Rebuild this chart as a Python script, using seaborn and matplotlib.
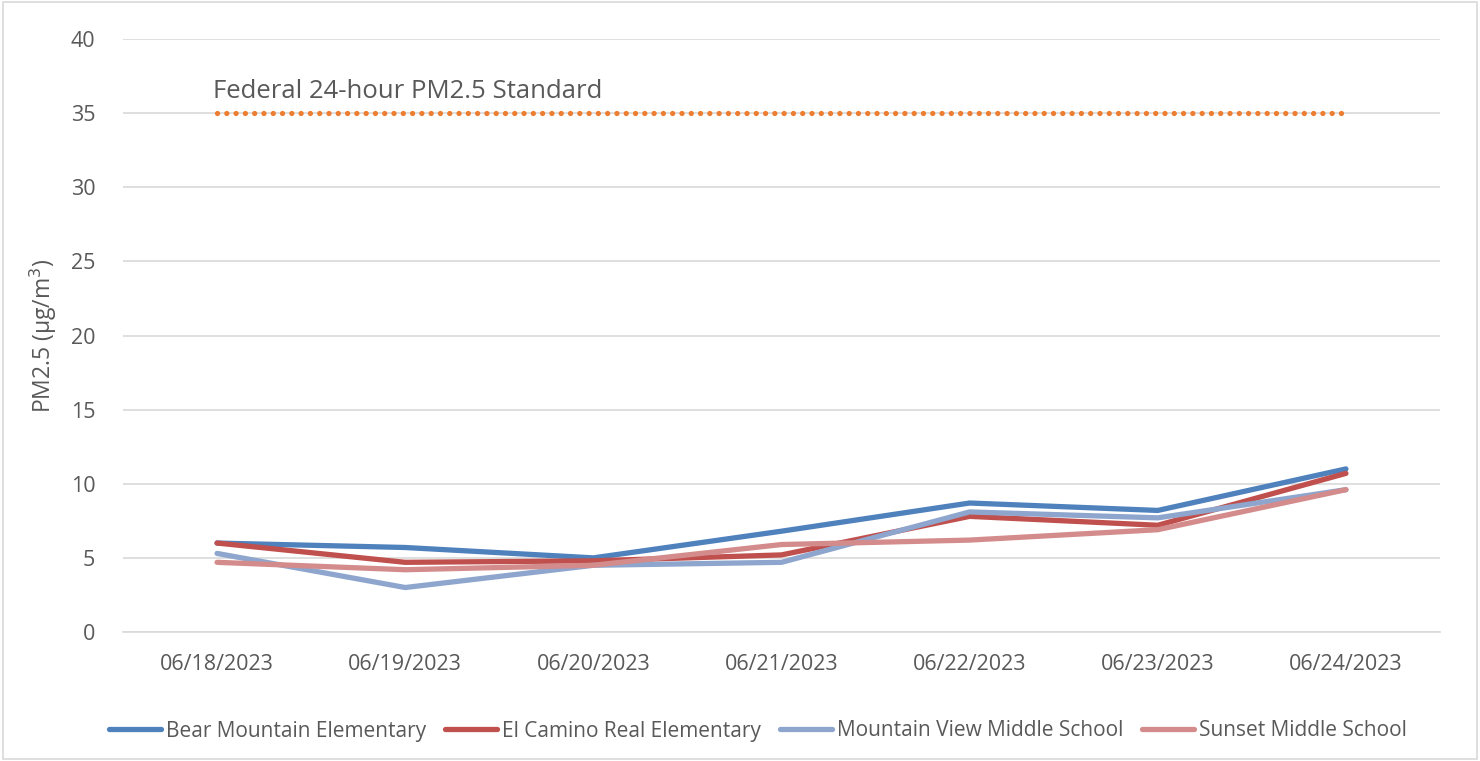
import numpy as np
import pandas as pd
import seaborn as sns
import matplotlib.pyplot as plt
from matplotlib.patches import Rectangle

# Dados
dates = ["06/18/2023", "06/19/2023", "06/20/2023", "06/21/2023",
         "06/22/2023", "06/23/2023", "06/24/2023"]
bear_mountain = [6.0, 5.7, 5.0, 6.8, 8.7, 8.2, 11.0]
el_camino = [6.0, 4.7, 4.8, 5.2, 7.8, 7.2, 10.7]
mountain_view = [5.3, 3.0, 4.5, 4.7, 8.1, 7.7, 9.6]
sunset = [4.7, 4.2, 4.5, 5.9, 6.2, 6.9, 9.6]
standard = [35] * len(dates)

schools = ["Bear Mountain Elementary", "El Camino Real Elementary",
           "Mountain View Middle School", "Sunset Middle School"]
colors = ["#4F81BD", "#C0504D", "#8EA6CD", "#D38C8B"]

df = pd.DataFrame({
    "date": dates * 4,
    "pm25": bear_mountain + el_camino + mountain_view + sunset,
    "school": sum([[s] * len(dates) for s in schools], []),
})

sns.set_style("white")
plt.rcParams["font.family"] = ["Open Sans", "DejaVu Sans"]
text_color = "#595959"
fs = 15

fig = plt.figure(figsize=(14.8, 7.61), dpi=100)
ax = fig.add_axes([123 / 1480, 1 - 632 / 761, (1440 - 123) / 1480, (632 - 39) / 761])

# Linha do padrão federal (pontilhada)
std_df = pd.DataFrame({"date": dates, "pm25": standard})
sns.lineplot(data=std_df, x="date", y="pm25", ax=ax, color="#ED7D31",
             lw=3.8, dashes=False, legend=False, sort=False,
             linestyle=(0, (0.01, 1.75)), dash_capstyle="round", zorder=3)
ax.text(-0.02, 35.6, "Federal 24-hour PM2.5 Standard", fontsize=18.5,
        color=text_color, ha="left", va="bottom")

sns.lineplot(data=df, x="date", y="pm25", hue="school", palette=colors,
             ax=ax, lw=3.8, sort=False, solid_capstyle="round", zorder=4)

ax.set_xlim(-0.5, len(dates) - 0.5)
ax.set_ylim(0, 40)
ax.set_yticks(range(0, 41, 5))
ax.grid(axis="y", color="#D9D9D9", lw=1.2)
ax.set_axisbelow(True)
for side in ["top", "right", "left"]:
    ax.spines[side].set_visible(False)
ax.spines["bottom"].set_color("#D9D9D9")
ax.spines["bottom"].set_linewidth(1.2)

ax.set_xticks(range(len(dates)))
ax.set_xticklabels(dates)
ax.set_xticks(np.arange(-0.5, len(dates)), minor=True)
ax.tick_params(axis="x", which="major", length=0, pad=16, labelsize=fs + 0.5,
               labelcolor=text_color)
ax.tick_params(axis="x", which="minor", length=7, color="#D9D9D9", width=1.2)
ax.tick_params(axis="y", length=0, pad=20, labelsize=fs + 0.5, labelcolor=text_color)
ax.set_xlabel("")
ax.set_ylabel("PM2.5 (μg/m$^3$)", fontsize=fs + 1.5, color=text_color, labelpad=8)

handles, labels = ax.get_legend_handles_labels()
ax.legend(handles, labels, loc="center", bbox_to_anchor=(758 / 1480, 1 - 731 / 761),
          bbox_transform=fig.transFigure, ncol=4, frameon=False,
          fontsize=fs, handlelength=2.5, handletextpad=0.25,
          columnspacing=0.9, labelcolor=text_color)

# Borda do gráfico
fig.patches.append(Rectangle((0.002, 0.002), 0.996, 0.995, transform=fig.transFigure,
                             fill=False, edgecolor="#D9D9D9", lw=1.2))

fig.savefig("out.png", dpi=100)
